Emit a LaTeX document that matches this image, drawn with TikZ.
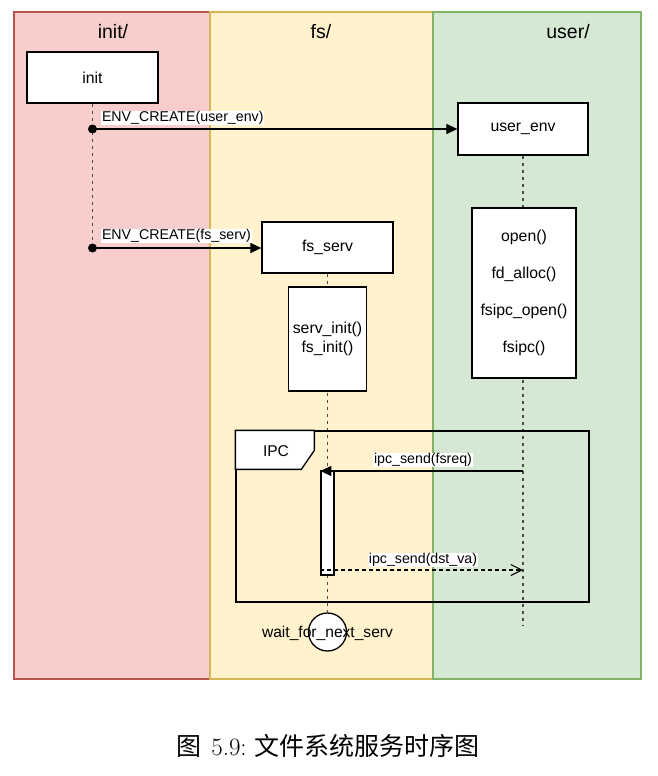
\documentclass[tikz,border=0pt]{standalone}
\usepackage{fontspec}
\newfontfamily\arial{Liberation Sans}
\newfontfamily\cjk{Noto Sans CJK SC}
\usetikzlibrary{arrows.meta,shapes.geometric}
\pgfdeclarelayer{bg}
\pgfdeclarelayer{mid}
\pgfsetlayers{bg,mid,main}
\definecolor{redfill}{HTML}{F8CECC}
\definecolor{redline}{HTML}{B85450}
\definecolor{yelfill}{HTML}{FFF2CC}
\definecolor{yelline}{HTML}{D6B656}
\definecolor{grnfill}{HTML}{D5E8D4}
\definecolor{grnline}{HTML}{82B366}
\tikzset{
  lane/.style={line width=1.5pt, inner sep=0pt, minimum width=#1, minimum height=667pt},
  box/.style={draw, fill=white, line width=1.3pt, inner sep=0pt, align=center,
    font=\arial\fontsize{15.8}{19}\selectfont},
  lbl/.style={font=\arial\fontsize{14.2}{16}\selectfont, fill=white, inner sep=0.8pt},
  lanetitle/.style={font=\arial\fontsize{19.5}{23}\selectfont},
  life/.style={dash pattern=on 3.5pt off 3.5pt, line width=1.4pt, draw=black!70},
  msg/.style={line width=1.2pt, -{Triangle[length=11pt,width=10pt]}},
  reply/.style={line width=1.1pt, dash pattern=on 4pt off 3pt, -{Straight Barb[length=11pt,width=11pt,line width=1.1pt]}},
  dot/.style={circle, fill=black, inner sep=0pt, minimum size=9pt},
}
\begin{document}
\begin{tikzpicture}[x=1pt,y=-1pt]
\useasboundingbox (0,0) rectangle (657,776);
% lanes
\begin{pgfonlayer}{bg}
\node[lane=196pt, draw=redline, fill=redfill] (lanei) at (112,345.5) {};
\node[lane=223pt, draw=yelline, fill=yelfill] (lanef) at (321.5,345.5) {};
\node[lane=208pt, draw=grnline, fill=grnfill] (laneu) at (537,345.5) {};
\end{pgfonlayer}
\node[lanetitle] (ti) at (113,32) {init/};
\node[lanetitle] (tf) at (321,32) {fs/};
\node[lanetitle] (tu) at (568,32) {user/};
% boxes
\node[box, minimum width=131pt, minimum height=51pt] (init) at (92.5,77.5) {init};
\node[box, minimum width=130pt, minimum height=52pt] (uenv) at (523,129) {user\_env};
\node[box, minimum width=131pt, minimum height=51pt] (fsserv) at (327.5,247.5) {fs\_serv};
\node[box, minimum width=78pt, minimum height=104pt, font=\arial\fontsize{15.8}{19}\selectfont] (servinit) at (327.5,339) {serv\_init()\\fs\_init()};
\node[box, minimum width=104pt, minimum height=170pt, font=\arial\fontsize{15.8}{37}\selectfont] (uact) at (524,293) {open()\\fd\_alloc()\\fsipc\_open()\\fsipc()};
% IPC frame
\node[draw, line width=1.3pt, minimum width=353pt, minimum height=171pt, inner sep=0pt] (ipc) at (412.5,516.5) {};
\draw[line width=1.3pt, fill=white] (ipc.north west) -- ++(79,0) -- ++(0,20) -- ++(-13,19) -- ++(-66,0) -- cycle;
\node[font=\arial\fontsize{15.6}{18}\selectfont] (ipct) at (276,451) {IPC};
\node[box, minimum width=13pt, minimum height=104pt] (act) at (327.5,523) {};
% wait circle
\node[circle, draw, fill=white, line width=1.3pt, minimum size=38pt, inner sep=0pt] (wait) at (327.5,632) {};
\node[font=\arial\fontsize{15.6}{18}\selectfont] (waitt) at (327.5,633) {wait\_for\_next\_serv};
% lifelines
\coordinate (iend) at (92.5,248);
\coordinate (uend) at (523,625);
\begin{pgfonlayer}{mid}
\draw[life] (init.south) -- (iend);
\draw[life] (uenv.south) -- (uend);
\draw[life] (fsserv.south) -- (wait.north);
\end{pgfonlayer}
% messages
\node[dot] (d1) at (92.5,129) {};
\node[dot] (d2) at (92.5,248) {};
\draw[msg] (d1.center) -- (uenv.west);
\draw[msg] (d2.center) -- (fsserv.west |- d2);
\node[lbl, anchor=west] (l1) at (101,118) {ENV\_CREATE(user\_env)};
\node[lbl, anchor=west] (l2) at (101,236) {ENV\_CREATE(fs\_serv)};
\coordinate (u1) at (523,471);
\coordinate (u2) at (523,570);
\draw[msg] (u1) -- (act.north west |- u1);
\draw[reply] (act.west |- u2) -- (u2);
\node[lbl] (l3) at (423,460) {ipc\_send(fsreq)};
\node[lbl] (l4) at (423,560) {ipc\_send(dst\_va)};
% caption
\node[font=\fontsize{25}{30}\selectfont] (cap) at (328,746) {{\cjk 图}\hspace{10pt}5.9:\hspace{8pt}{\cjk 文件系统服务时序图}};
\end{tikzpicture}
\end{document}
